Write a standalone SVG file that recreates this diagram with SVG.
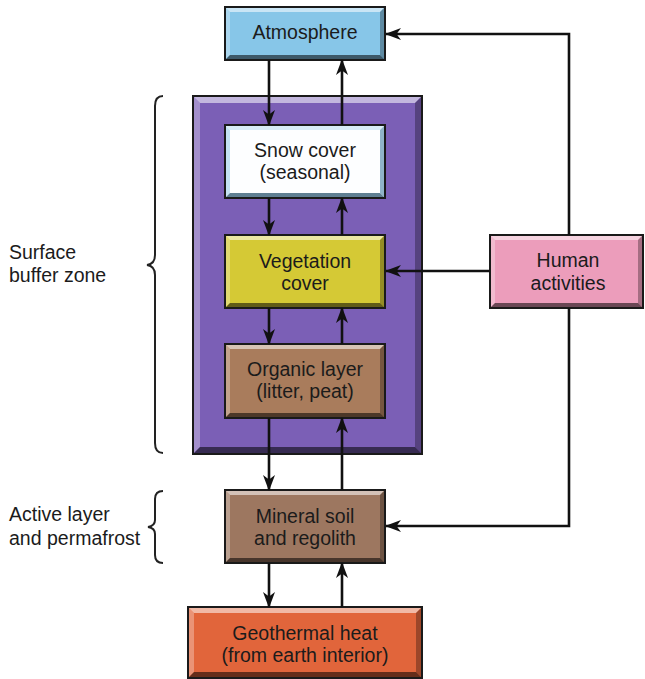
<svg xmlns="http://www.w3.org/2000/svg" width="645" height="679" viewBox="0 0 645 679">
<style>
text{font-family:"Liberation Sans",Arial,sans-serif;font-size:19.5px;fill:#1b1b1b}
.c{text-anchor:middle}
.out{fill:none;stroke:#1a1a1a;stroke-width:2}
.hl{fill:#fff;fill-opacity:.55}
.hl2{fill:#fff;fill-opacity:.3}
.sh{fill:#000;fill-opacity:.3}
.sh2{fill:#000;fill-opacity:.55}
.ln{fill:none;stroke:#111;stroke-width:2.6}
.br{fill:none;stroke:#222;stroke-width:2}
</style>
<defs>
<marker id="ah" viewBox="0 0 16 12" refX="15" refY="6" markerWidth="16" markerHeight="12" orient="auto" markerUnits="userSpaceOnUse">
<path d="M0,0 L16,6 L0,12 L4.5,6 z" fill="#111"/>
</marker>
</defs>
<rect width="645" height="679" fill="#fff"/>

<g id="purple-zone">
<rect x="193" y="96" width="229" height="358" fill="#7b5fb6"/>
<polygon class="hl" points="193,96 422,96 415,103 200,103"/>
<polygon class="hl2" points="193,96 200,103 200,447 193,454"/>
<polygon class="sh" points="422,96 422,454 415,447 415,103"/>
<polygon class="sh2" points="193,454 422,454 415,447 200,447"/>
<rect class="out" x="193" y="96" width="229" height="358"/>
</g>

<g id="atmosphere">
<rect x="225" y="7" width="160" height="53" fill="#87c6e8"/>
<polygon class="hl" points="225,7 385,7 380,12 230,12"/>
<polygon class="hl2" points="225,7 230,12 230,55 225,60"/>
<polygon class="sh" points="385,7 385,60 380,55 380,12"/>
<polygon class="sh2" points="225,60 385,60 380,55 230,55"/>
<rect class="out" x="225" y="7" width="160" height="53"/>
<text class="c" x="305" y="39">Atmosphere</text>
</g>

<g id="snow-cover">
<rect x="225" y="125" width="160" height="73" fill="#fdfeff"/>
<polygon fill="#d8ecf6" points="225,125 385,125 380,130 230,130"/>
<polygon fill="#c4e2f2" points="225,125 230,130 230,193 225,198"/>
<polygon fill="#8fb3c8" points="385,125 385,198 380,193 380,130"/>
<polygon fill="#5f7f92" points="225,198 385,198 380,193 230,193"/>
<rect class="out" x="225" y="125" width="160" height="73"/>
<text class="c" x="305" y="157">Snow cover</text>
<text class="c" x="305" y="179">(seasonal)</text>
</g>

<g id="vegetation-cover">
<rect x="225" y="235" width="160" height="73" fill="#d5c935"/>
<polygon class="hl" points="225,235 385,235 380,240 230,240"/>
<polygon class="hl2" points="225,235 230,240 230,303 225,308"/>
<polygon class="sh" points="385,235 385,308 380,303 380,240"/>
<polygon class="sh2" points="225,308 385,308 380,303 230,303"/>
<rect class="out" x="225" y="235" width="160" height="73"/>
<text class="c" x="305" y="268">Vegetation</text>
<text class="c" x="305" y="290">cover</text>
</g>

<g id="organic-layer">
<rect x="225" y="344" width="160" height="74" fill="#a97c5c"/>
<polygon class="hl" points="225,344 385,344 380,349 230,349"/>
<polygon class="hl2" points="225,344 230,349 230,413 225,418"/>
<polygon class="sh" points="385,344 385,418 380,413 380,349"/>
<polygon class="sh2" points="225,418 385,418 380,413 230,413"/>
<rect class="out" x="225" y="344" width="160" height="74"/>
<text class="c" x="305" y="376">Organic layer</text>
<text class="c" x="305" y="398">(litter, peat)</text>
</g>

<g id="mineral-soil">
<rect x="225" y="490" width="160" height="73" fill="#9d7760"/>
<polygon class="hl" points="225,490 385,490 380,495 230,495"/>
<polygon class="hl2" points="225,490 230,495 230,558 225,563"/>
<polygon class="sh" points="385,490 385,563 380,558 380,495"/>
<polygon class="sh2" points="225,563 385,563 380,558 230,558"/>
<rect class="out" x="225" y="490" width="160" height="73"/>
<text class="c" x="305" y="523">Mineral soil</text>
<text class="c" x="305" y="545">and regolith</text>
</g>

<g id="geothermal-heat">
<rect x="188" y="607" width="234" height="71" fill="#e1653b"/>
<polygon class="hl" points="188,607 422,607 416,613 194,613"/>
<polygon class="hl2" points="188,607 194,613 194,672 188,678"/>
<polygon class="sh" points="422,607 422,678 416,672 416,613"/>
<polygon class="sh2" points="188,678 422,678 416,672 194,672"/>
<rect class="out" x="188" y="607" width="234" height="71"/>
<text class="c" x="305" y="640">Geothermal heat</text>
<text class="c" x="305" y="662">(from earth interior)</text>
</g>

<g id="human-activities">
<rect x="490" y="235" width="153" height="73" fill="#ec9dbb"/>
<polygon class="hl" points="490,235 643,235 638,240 495,240"/>
<polygon class="hl2" points="490,235 495,240 495,303 490,308"/>
<polygon class="sh" points="643,235 643,308 638,303 638,240"/>
<polygon class="sh2" points="490,308 643,308 638,303 495,303"/>
<rect class="out" x="490" y="235" width="153" height="73"/>
<text class="c" x="568" y="267">Human</text>
<text class="c" x="568" y="290">activities</text>
</g>

<g id="labels">
<path class="br" d="M163,96 Q155,96 155,106 L155,255 Q155,264 147,265 Q155,266 155,275 L155,443 Q155,453 163,453"/>
<text x="9" y="259">Surface</text>
<text x="9" y="282">buffer zone</text>
<path class="br" d="M163,491 Q155,491 155,499 L155,520 Q155,526 148,527 Q155,528 155,534 L155,555 Q155,563 163,563"/>
<text x="9" y="521">Active layer</text>
<text x="9" y="545">and permafrost</text>
</g>

<g id="connectors">
<line class="ln" x1="269" y1="60" x2="269" y2="125" marker-end="url(#ah)"/>
<line class="ln" x1="342" y1="125" x2="342" y2="60" marker-end="url(#ah)"/>
<line class="ln" x1="269" y1="198" x2="269" y2="235" marker-end="url(#ah)"/>
<line class="ln" x1="342" y1="235" x2="342" y2="198" marker-end="url(#ah)"/>
<line class="ln" x1="269" y1="308" x2="269" y2="344" marker-end="url(#ah)"/>
<line class="ln" x1="342" y1="344" x2="342" y2="308" marker-end="url(#ah)"/>
<line class="ln" x1="269" y1="418" x2="269" y2="490" marker-end="url(#ah)"/>
<line class="ln" x1="342" y1="490" x2="342" y2="418" marker-end="url(#ah)"/>
<line class="ln" x1="269" y1="563" x2="269" y2="607" marker-end="url(#ah)"/>
<line class="ln" x1="342" y1="607" x2="342" y2="563" marker-end="url(#ah)"/>
<polyline class="ln" points="569,235 569,34 386,34" marker-end="url(#ah)"/>
<line class="ln" x1="490" y1="271" x2="386" y2="271" marker-end="url(#ah)"/>
<polyline class="ln" points="569,308 569,526 386,526" marker-end="url(#ah)"/>
</g>
</svg>
